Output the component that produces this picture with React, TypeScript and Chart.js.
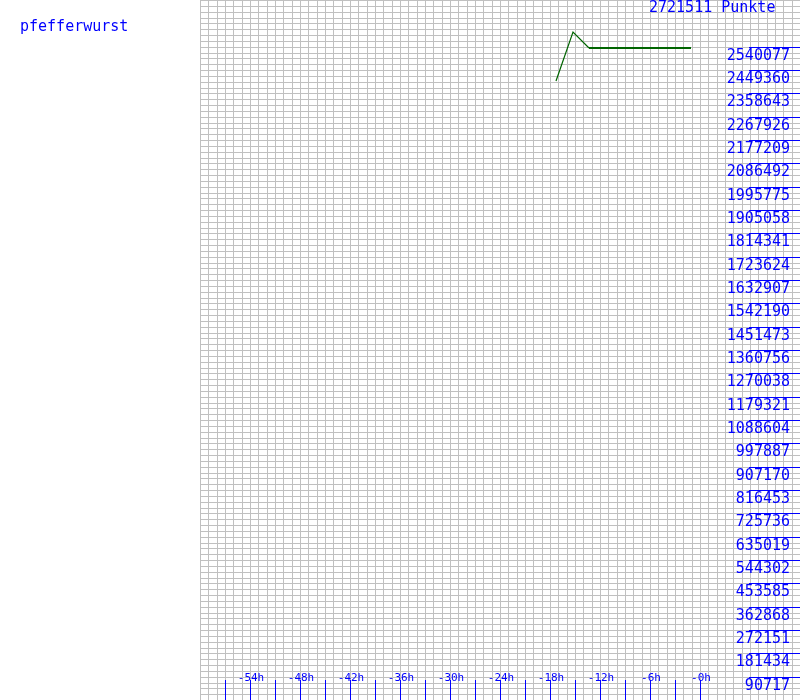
import React, { useEffect, useRef } from "react";
import { Chart, registerables } from "chart.js";

Chart.register(...registerables);

// ---- data ----
const playerName = "pfefferwurst";
const topLabel = "2721511 Punkte";
const yMax = 2721511;
const hoursAgo = [-17.28, -15.24, -13.28, -1.12];
const points = [2406500, 2596000, 2534900, 2534900];

const yTickValues = [
  90717, 181434, 272151, 362868, 453585, 544302, 635019, 725736, 816453,
  907170, 997887, 1088604, 1179321, 1270038, 1360756, 1451473, 1542190,
  1632907, 1723624, 1814341, 1905058, 1995775, 2086492, 2177209, 2267926,
  2358643, 2449360, 2540077,
];
const xTickMarks = [-57, -54, -51, -48, -45, -42, -39, -36, -33, -30, -27, -24, -21, -18, -15, -12, -9, -6, -3, 0];
const xLabelHours = [-54, -48, -42, -36, -30, -24, -18, -12, -6, 0];
const xLabels = ["-54h", "-48h", "-42h", "-36h", "-30h", "-24h", "-18h", "-12h", "-6h", "-0h"];
const xMin = -60;
const xMax = 12;
const gridHourStep = 1;
const gridValueStep = 90717.0333 / 4;

const BLUE = "#0000ff";
const GRID = "#c0c0c0";
const LINE = "#006400";
const MONO = '"DejaVu Sans Mono", "Liberation Mono", monospace';

const overlayPlugin = {
  id: "overlay",
  afterDraw(chart: any) {
    const ctx = chart.ctx as CanvasRenderingContext2D;
    const xs = chart.scales.x;
    const ys = chart.scales.y;
    ctx.save();
    ctx.fillStyle = BLUE;
    // y tick lines and labels
    ctx.font = `15px ${MONO}`;
    ctx.textAlign = "right";
    ctx.textBaseline = "alphabetic";
    yTickValues.forEach((v) => {
      const y = Math.floor(ys.getPixelForValue(v));
      ctx.fillStyle = BLUE;
      ctx.fillRect(749, y, 51, 1);
      ctx.fillText(String(v), 790, y + 13);
    });
    // top label
    ctx.textAlign = "left";
    ctx.fillText(topLabel, 649, 12);
    // player name
    ctx.fillText(playerName, 20, 31);
    // x tick marks
    xTickMarks.forEach((h) => {
      const x = Math.round(xs.getPixelForValue(h));
      ctx.fillStyle = BLUE;
      ctx.fillRect(x, 680, 1, 20);
    });
    // x labels
    ctx.font = `11px ${MONO}`;
    ctx.textAlign = "center";
    ctx.textBaseline = "middle";
    xLabelHours.forEach((h, i) => {
      const x = xs.getPixelForValue(h);
      ctx.fillText(xLabels[i], x + 1, 678);
    });
    ctx.restore();
  },
};

export default function App() {
  const ref = useRef<HTMLCanvasElement | null>(null);
  useEffect(() => {
    document.body.style.margin = "0";
    const canvas = ref.current;
    if (!canvas) return;
    const chart = new Chart(canvas, {
      type: "line",
      data: {
        datasets: [
          {
            data: hoursAgo.map((h, i) => ({ x: h, y: points[i] })),
            borderColor: LINE,
            borderWidth: 1,
            pointRadius: 0,
            tension: 0,
            fill: false,
            segment: {
              borderWidth: (c: any) => (c.p0.parsed.y === c.p1.parsed.y ? 2 : 1.2),
            },
          },
        ],
      },
      options: {
        responsive: false,
        animation: false,
        devicePixelRatio: 1,
        layout: { padding: { left: 200, top: 0, right: 0, bottom: 0 } },
        plugins: { legend: { display: false }, tooltip: { enabled: false } },
        scales: {
          x: {
            type: "linear",
            min: xMin,
            max: xMax,
            alignToPixels: true,
            afterBuildTicks: (s: any) => {
              const t: any[] = [];
              for (let h = xMin; h <= xMax; h += gridHourStep) t.push({ value: h });
              s.ticks = t;
            },
            ticks: { display: false },
            grid: { color: GRID, lineWidth: 1, drawTicks: false, tickLength: 0 },
            border: { display: false },
          },
          y: {
            type: "linear",
            min: 0,
            max: yMax,
            alignToPixels: true,
            afterBuildTicks: (s: any) => {
              const t: any[] = [];
              for (let k = 0; k <= 120; k++) t.push({ value: k * gridValueStep });
              s.ticks = t;
            },
            ticks: { display: false },
            grid: { color: GRID, lineWidth: 1, drawTicks: false, tickLength: 0 },
            border: { display: false },
          },
        },
      } as any,
      plugins: [overlayPlugin],
    });
    return () => chart.destroy();
  }, []);
  return (
    <div style={{ width: 800, height: 700, background: "#fff" }}>
      <canvas ref={ref} width={800} height={700} style={{ display: "block" }} />
    </div>
  );
}
